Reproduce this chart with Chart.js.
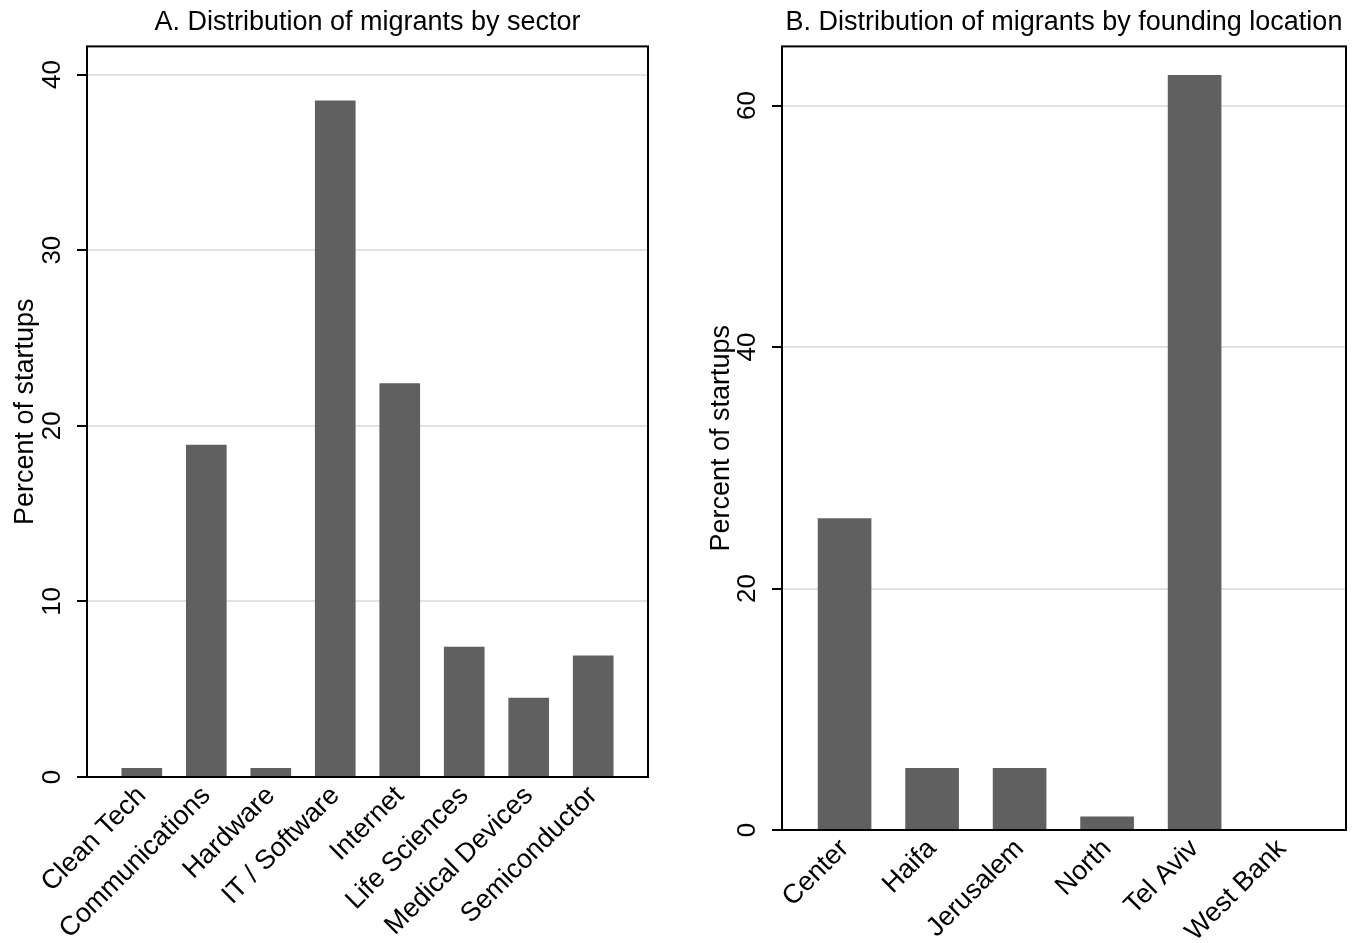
<!DOCTYPE html>
<html>
<head>
<meta charset="utf-8">
<script src="https://cdn.jsdelivr.net/npm/chart.js@4/dist/chart.umd.min.js"></script>
<style>
  html, body { margin: 0; padding: 0; background: #ffffff; }
  body { width: 1364px; height: 943px; position: relative; overflow: hidden; }
  canvas { position: absolute; top: 0; }
  #cA { left: 0; }
  #cB { left: 680px; }
</style>
</head>
<body>
<canvas id="cA" width="680" height="943"></canvas>
<canvas id="cB" width="684" height="943"></canvas>
<script>
// ---- Data ----
const titleA = "A. Distribution of migrants by sector";
const sectors = ["Clean Tech", "Communications", "Hardware", "IT / Software", "Internet", "Life Sciences", "Medical Devices", "Semiconductor"];
const sectorPct = [0.5, 18.9, 0.5, 38.5, 22.4, 7.4, 4.5, 6.9];
const yTicksA = [0, 10, 20, 30, 40];

const titleB = "B. Distribution of migrants by founding location";
const locations = ["Center", "Haifa", "Jerusalem", "North", "Tel Aviv", "West Bank"];
const locationPct = [25.8, 5.1, 5.1, 1.1, 62.5, 0];
const yTicksB = [0, 20, 40, 60];

const yTitle = "Percent of startups";

// ---- Style ----
const FONT = "'Liberation Sans', Arial, Helvetica, sans-serif";
const BAR = "#606060";
const GRID = "#e2e2e2";

const framePlugin = {
  id: 'frame',
  afterDraw(chart) {
    const {ctx, chartArea: a} = chart;
    ctx.save();
    ctx.strokeStyle = '#000';
    ctx.lineWidth = 2;
    ctx.strokeRect(a.left, a.top, a.right - a.left, a.bottom - a.top);
    ctx.restore();
  }
};

function makeChart(id, title, cats, vals, yTicks, cfg) {
  const data = cats.map((c, i) => ({x: i + 1, y: vals[i]}));
  return new Chart(document.getElementById(id), {
    type: 'bar',
    data: {
      datasets: [{
        data: data,
        backgroundColor: BAR,
        borderWidth: 0,
        barThickness: cfg.barThickness
      }]
    },
    plugins: [framePlugin],
    options: {
      responsive: false,
      animation: false,
      devicePixelRatio: 1,
      layout: { padding: { left: 0, right: cfg.padRight, top: 0, bottom: 0 } },
      plugins: {
        legend: { display: false },
        tooltip: { enabled: false },
        title: {
          display: true,
          fullSize: false,
          text: title,
          color: '#000',
          font: { family: FONT, size: 27, weight: 'normal' },
          padding: { top: 6, bottom: 8 }
        }
      },
      scales: {
        x: {
          type: 'linear',
          offset: false,
          min: cfg.xMin,
          max: cfg.xMax,
          grid: { display: false, drawTicks: false, offset: false },
          border: { display: false },
          ticks: {
            stepSize: 1,
            includeBounds: false,
            autoSkip: false,
            minRotation: 45,
            maxRotation: 45,
            padding: 3,
            color: '#000',
            font: { family: FONT, size: 27 },
            callback: (v) => cats[v - 1] !== undefined && Number.isInteger(v) ? cats[v - 1] : ''
          },
          afterFit: (s) => { s.height = cfg.xHeight; }
        },
        y: {
          type: 'linear',
          min: 0,
          max: cfg.yMax,
          afterBuildTicks: (s) => { s.ticks = yTicks.map(v => ({value: v})); },
          grid: { color: GRID, lineWidth: 2, tickColor: '#000', tickLength: 10, tickWidth: 2 },
          border: { display: false },
          ticks: {
            minRotation: 90,
            maxRotation: 90,
            crossAlign: 'center',
            padding: 10,
            color: '#000',
            font: { family: FONT, size: 26 }
          },
          title: {
            display: true,
            text: yTitle,
            color: '#000',
            font: { family: FONT, size: 27 },
            padding: { top: cfg.yTitlePad, bottom: 0 }
          },
          afterFit: (s) => { s.width = cfg.yWidth; }
        }
      }
    }
  });
}

makeChart('cA', titleA, sectors, sectorPct, yTicksA, {
  barThickness: 40, padRight: 32, xMin: 0.15, xMax: 8.85, xHeight: 166,
  yMax: 41.6, yWidth: 87, yTitlePad: 9
});
makeChart('cB', titleB, locations, locationPct, yTicksB, {
  barThickness: 53, padRight: 18, xMin: 0.285, xMax: 6.73, xHeight: 113,
  yMax: 64.9, yWidth: 102, yTitlePad: 25
});
</script>
</body>
</html>
